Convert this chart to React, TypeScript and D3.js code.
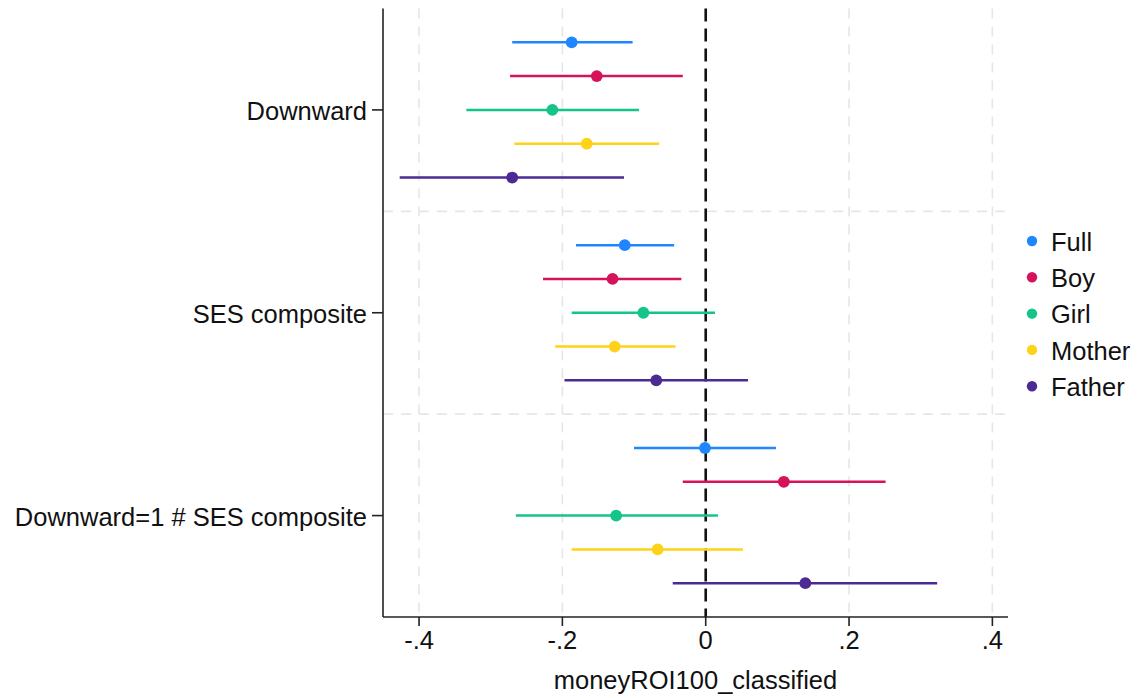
import React from "react";
import * as d3 from "d3";

const groups = ["Downward", "SES composite", "Downward=1 # SES composite"];
const seriesNames = ["Full", "Boy", "Girl", "Mother", "Father"];
const seriesColors = ["#1f86ff", "#d5135a", "#14c48a", "#ffd21a", "#4c2a94"];

// point estimates [group][series]
const estDownward = [-0.187, -0.152, -0.214, -0.166, -0.270];
const estSES = [-0.113, -0.130, -0.087, -0.127, -0.069];
const estInter = [-0.001, 0.109, -0.125, -0.067, 0.139];
// lower CI
const loDownward = [-0.270, -0.273, -0.334, -0.267, -0.427];
const loSES = [-0.181, -0.227, -0.187, -0.210, -0.197];
const loInter = [-0.100, -0.032, -0.265, -0.187, -0.046];
// upper CI
const hiDownward = [-0.102, -0.032, -0.093, -0.065, -0.114];
const hiSES = [-0.044, -0.034, 0.013, -0.042, 0.059];
const hiInter = [0.098, 0.251, 0.017, 0.052, 0.323];

const xTicks = [-0.4, -0.2, 0, 0.2, 0.4];
const xTickLabels = ["-.4", "-.2", "0", ".2", ".4"];
const xTitle = "moneyROI100_classified";

export default function App() {
  const W = 1140, H = 698;
  const left = 383, right = 1008, top = 8.5, bottom = 617;
  const x = d3.scaleLinear().domain([-0.4503, 0.4218]).range([left, right]);
  const y = d3.scaleLinear().domain([0.5, 3.5]).range([top, bottom]);
  const est = [estDownward, estSES, estInter];
  const lo = [loDownward, loSES, loInter];
  const hi = [hiDownward, hiSES, hiInter];
  const font = "'Liberation Sans', Arial, Helvetica, sans-serif";
  const fs = 25.5;
  const grid = "#e6e6e6";

  return (
    <svg width={W} height={H} style={{ position: "absolute", left: 0, top: 0 }} fontFamily={font}>
      <rect x={0} y={0} width={W} height={H} fill="#fff" />
      {xTicks.filter((t) => t !== 0).map((t) => (
        <line key={"vg" + t} x1={x(t)} x2={x(t)} y1={top} y2={bottom} stroke={grid} strokeWidth={1.6} strokeDasharray="10 8" />
      ))}
      {[1.5, 2.5].map((g) => (
        <line key={"hg" + g} x1={left} x2={right} y1={y(g)} y2={y(g)} stroke={grid} strokeWidth={1.6} strokeDasharray="10 8" />
      ))}
      <line x1={x(0)} x2={x(0)} y1={top} y2={bottom} stroke="#111" strokeWidth={2.6} strokeDasharray="13 7" />
      {groups.map((g, gi) =>
        seriesNames.map((s, si) => {
          const yy = y(gi + 1 + (si - 2) / 6);
          return (
            <g key={g + s}>
              <line x1={x(lo[gi][si])} x2={x(hi[gi][si])} y1={yy} y2={yy} stroke={seriesColors[si]} strokeWidth={2.5} />
              <circle cx={x(est[gi][si])} cy={yy} r={5.9} fill={seriesColors[si]} />
            </g>
          );
        })
      )}
      <line x1={left} x2={left} y1={top} y2={bottom} stroke="#222" strokeWidth={1.6} />
      <line x1={left} x2={right} y1={bottom} y2={bottom} stroke="#222" strokeWidth={1.6} />
      {groups.map((g, gi) => (
        <g key={"yl" + g}>
          <line x1={left - 11} x2={left} y1={y(gi + 1)} y2={y(gi + 1)} stroke="#222" strokeWidth={1.6} />
          <text x={left - 16} y={y(gi + 1)} dy="0.4em" textAnchor="end" fontSize={fs} fill="#111">{g}</text>
        </g>
      ))}
      {xTicks.map((t, i) => (
        <g key={"xt" + t}>
          <line x1={x(t)} x2={x(t)} y1={bottom} y2={bottom + 9} stroke="#222" strokeWidth={1.6} />
          <text x={x(t)} y={649} textAnchor="middle" fontSize={fs} fill="#111">{xTickLabels[i]}</text>
        </g>
      ))}
      <text x={(left + right) / 2} y={689} textAnchor="middle" fontSize={fs} fill="#111">{xTitle}</text>
      {seriesNames.map((s, si) => (
        <g key={"lg" + s}>
          <circle cx={1032} cy={241 + si * 36.3} r={5.2} fill={seriesColors[si]} />
          <text x={1051} y={241 + si * 36.3} dy="0.38em" fontSize={fs} fill="#111">{s}</text>
        </g>
      ))}
    </svg>
  );
}
